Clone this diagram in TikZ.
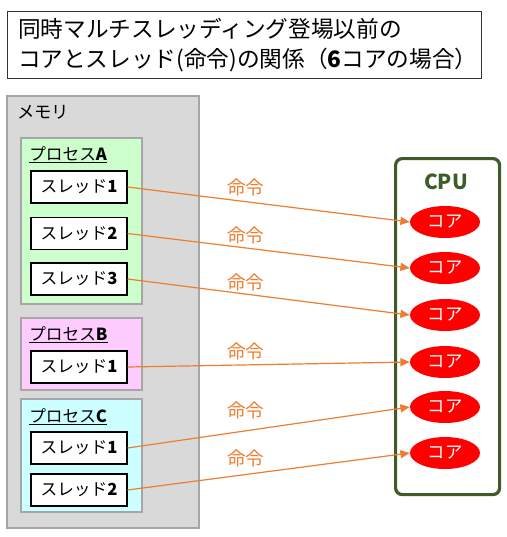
\documentclass[tikz,border=0pt]{standalone}
\usepackage{fontspec}
\setmainfont{Noto Sans CJK JP}
\usetikzlibrary{arrows.meta,shapes.geometric}
\definecolor{memgray}{HTML}{D9D9D9}
\definecolor{boxgray}{HTML}{A6A6A6}
\definecolor{procA}{HTML}{CCFFCC}
\definecolor{procB}{HTML}{FFCCFF}
\definecolor{procC}{HTML}{CCFFFF}
\definecolor{cpugreen}{HTML}{3D5C28}
\definecolor{arrorange}{HTML}{ED7D31}
\definecolor{corered}{HTML}{FF0000}
\tikzset{
  area/.style={draw=boxgray, line width=0.9pt, anchor=north west, inner sep=0pt, outer sep=0pt},
  proclabel/.style={anchor=west, inner sep=0pt, font=\fontsize{12.5}{14}\selectfont},
  thread/.style={draw=black, line width=0.8pt, fill=white, minimum width=72pt, minimum height=24pt, inner sep=0pt, font=\fontsize{12.5}{14}\selectfont},
  core/.style={ellipse, fill=corered, draw=none, minimum width=52.5pt, minimum height=24pt, inner sep=0pt, text=white, font=\fontsize{13}{15}\selectfont},
  cmd/.style={text=arrorange, inner sep=0pt, font=\fontsize{14}{16}\selectfont},
  arr/.style={draw=arrorange, line width=0.9pt, -{Triangle[length=7pt,width=6pt]}}
}
\begin{document}
\begin{tikzpicture}[x=0.75pt,y=-0.75pt]
\useasboundingbox (0,0) rectangle (507,537);
% title
\node (title) [draw=black!80, line width=0.8pt, anchor=north west, minimum height=50.25pt, text width=339.5pt, inner xsep=8pt, inner ysep=0pt, align=left, font=\fontsize{17}{22.5}\selectfont] at (7,11)
  {同時マルチスレッディング登場以前の\\コアとスレッド(命令)の関係（\textbf{6}コアの場合）};
% memory
\node (mem) [area, fill=memgray, minimum width=144pt, minimum height=324pt] at (7,96) {};
\node (memlabel) [anchor=west, inner sep=0pt, font=\fontsize{13}{15}\selectfont] at (17,112) {メモリ};
% processes
\node (pA) [area, fill=procA, minimum width=90.75pt, minimum height=124.5pt] at (21,138) {};
\node (pAl) [proclabel] at (29,155) {\underline{プロセス\textbf{A}}};
\node (pB) [area, fill=procB, minimum width=90.75pt, minimum height=54pt] at (21,318) {};
\node (pBl) [proclabel] at (29,335) {\underline{プロセス\textbf{B}}};
\node (pC) [area, fill=procC, minimum width=90.75pt, minimum height=84.75pt] at (21,399) {};
\node (pCl) [proclabel] at (29,417) {\underline{プロセス\textbf{C}}};
% threads
\node (a1) [thread] at (79,187) {スレッド\textbf{1}};
\node (a2) [thread] at (79,233.5) {スレッド\textbf{2}};
\node (a3) [thread] at (79,279) {スレッド\textbf{3}};
\node (b1) [thread] at (79,367) {スレッド\textbf{1}};
\node (c1) [thread] at (79,448) {スレッド\textbf{1}};
\node (c2) [thread] at (79,490) {スレッド\textbf{2}};
% CPU
\node (cpu) [draw=cpugreen, line width=2.4pt, rounded corners=5pt, anchor=north west, minimum width=78pt, minimum height=252pt, inner sep=0pt] at (394,157) {};
\node (cputext) [text=cpugreen, inner sep=0pt, font=\fontsize{15.5}{17}\selectfont\bfseries] at (446,182) {CPU};
\node (k1) [core] at (445,222) {コア};
\node (k2) [core] at (445,268) {コア};
\node (k3) [core] at (445,315) {コア};
\node (k4) [core] at (445,362) {コア};
\node (k5) [core] at (445,407) {コア};
\node (k6) [core] at (445,453) {コア};
% arrows
\draw[arr] (a1.east) -- (k1.west);
\draw[arr] (a2.east) -- (k2.west);
\draw[arr] (a3.east) -- (k3.west);
\draw[arr] (b1.east) -- (k4.west);
\draw[arr] (c1.east) -- (k5.west);
\draw[arr] (c2.east) -- (k6.west);
% labels
\node (m1) [cmd] at (246,187) {命令};
\node (m2) [cmd] at (246,235) {命令};
\node (m3) [cmd] at (246,282) {命令};
\node (m4) [cmd] at (246,351) {命令};
\node (m5) [cmd] at (246,410) {命令};
\node (m6) [cmd] at (246,458) {命令};
\end{tikzpicture}
\end{document}
